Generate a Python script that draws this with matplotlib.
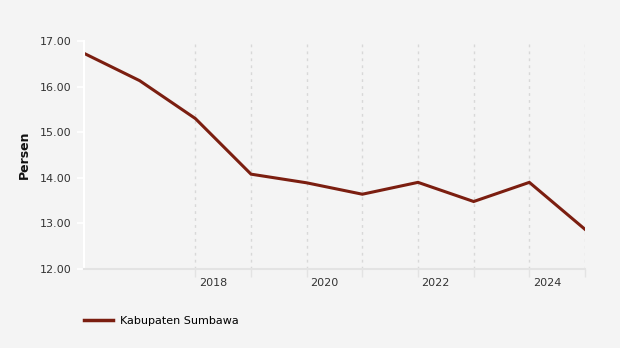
import matplotlib.pyplot as plt
from matplotlib.lines import Line2D

years = [2016, 2017, 2018, 2019, 2020, 2021, 2022, 2023, 2024, 2025]
persen = [16.73, 16.13, 15.30, 14.08, 13.89, 13.64, 13.90, 13.48, 13.90, 12.87]
grid_years = [2018, 2019, 2020, 2021, 2022, 2023, 2024, 2025]
label_years = [2018, 2020, 2022, 2024]
series_name = "Kabupaten Sumbawa"

bg = "#f4f4f4"
line_color = "#7b1e10"

fig = plt.figure(figsize=(6.2, 3.48), dpi=100, facecolor=bg)
ax = fig.add_axes([84/620, 1 - 269/348, (585 - 84)/620, (269 - 41)/348], facecolor=bg)

ax.plot(years, persen, color=line_color, lw=2.2, solid_joinstyle="miter")

ax.set_xlim(2016, 2025)
ax.set_ylim(12, 17)
ax.set_yticks([12, 13, 14, 15, 16, 17])
ax.set_yticklabels([f"{v:.2f}" for v in [12, 13, 14, 15, 16, 17]], fontsize=8, color="#333333")
ax.set_xticks(grid_years)
ax.set_xticklabels([])

# year labels sit just right of their tick, like the original
for y in label_years:
    ax.annotate(str(y), xy=(y, 0), xycoords=("data", "axes fraction"),
                xytext=(2.5, -6.8), textcoords="offset points",
                ha="left", va="top", fontsize=8, color="#333333")

for y in grid_years:
    ax.axvline(y, color="#d8d8d8", lw=1, ls=(0, (2, 3)), zorder=0)

for s in ["top", "right"]:
    ax.spines[s].set_visible(False)
ax.spines["left"].set_color("white")
ax.spines["left"].set_linewidth(1.5)
ax.spines["bottom"].set_color("#e3e3e3")
ax.spines["bottom"].set_linewidth(1.5)
ax.tick_params(axis="y", color="white", length=5, width=1.2, pad=4)
ax.tick_params(axis="x", color="#e3e3e3", length=6, width=1)

ax.set_ylabel("Persen", fontsize=9, fontweight="bold", color="#111111")
ax.yaxis.set_label_coords(-(84 - 31)/501, 0.5)

handle = Line2D([], [], color=line_color, lw=2.5)
fig.legend([handle], [series_name], loc="lower left", bbox_to_anchor=(74/620, 12/348),
           frameon=False, fontsize=8, handlelength=2.6, handletextpad=0.6)

fig.savefig("out.png", dpi=100, facecolor=bg)
